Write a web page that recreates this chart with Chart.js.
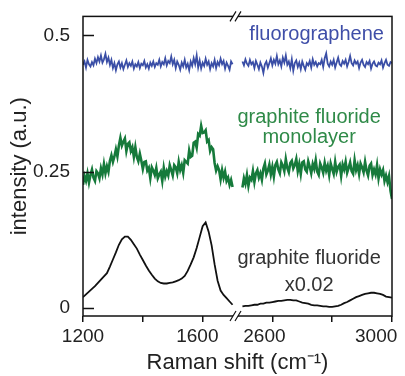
<!DOCTYPE html>
<html>
<head>
<meta charset="utf-8">
<script src="https://cdn.jsdelivr.net/npm/chart.js@4.4.1/dist/chart.umd.min.js"></script>
<style>
  html, body { margin: 0; padding: 0; background: #fff; }
  #wrap { width: 405px; height: 376px; }
</style>
</head>
<body>
<div id="wrap"><canvas id="c" width="405" height="376"></canvas></div>
<script>
// Raman shift sampling (cm-1), both sides of the axis break
const shiftLo = [1200, 1210, 1220, 1230, 1240, 1250, 1260, 1270, 1280, 1290,
  1300, 1310, 1320, 1330, 1340, 1350, 1360, 1370, 1380, 1390,
  1400, 1410, 1420, 1430, 1440, 1450, 1460, 1470, 1480, 1490,
  1500, 1510, 1520, 1530, 1540, 1550, 1560, 1570, 1580, 1590,
  1600, 1610, 1620, 1630, 1640, 1650, 1660, 1670, 1680, 1690, 1700];
const shiftHi = [2500, 2510, 2520, 2530, 2540, 2550, 2560, 2570, 2580, 2590,
  2600, 2610, 2620, 2630, 2640, 2650, 2660, 2670, 2680, 2690,
  2700, 2710, 2720, 2730, 2740, 2750, 2760, 2770, 2780, 2790,
  2800, 2810, 2820, 2830, 2840, 2850, 2860, 2870, 2880, 2890,
  2900, 2910, 2920, 2930, 2940, 2950, 2960, 2970, 2980, 2990, 3000];
// finer sampling for the noisy spectra
const fineLo = [1200, 1205, 1210, 1215, 1220, 1225, 1230, 1235, 1240, 1245,
  1250, 1255, 1260, 1265, 1270, 1275, 1280, 1285, 1290, 1295,
  1300, 1305, 1310, 1315, 1320, 1325, 1330, 1335, 1340, 1345,
  1350, 1355, 1360, 1365, 1370, 1375, 1380, 1385, 1390, 1395,
  1400, 1405, 1410, 1415, 1420, 1425, 1430, 1435, 1440, 1445,
  1450, 1455, 1460, 1465, 1470, 1475, 1480, 1485, 1490, 1495,
  1500, 1505, 1510, 1515, 1520, 1525, 1530, 1535, 1540, 1545,
  1550, 1555, 1560, 1565, 1570, 1575, 1580, 1585, 1590, 1595,
  1600, 1605, 1610, 1615, 1620, 1625, 1630, 1635, 1640, 1645,
  1650, 1655, 1660, 1665, 1670, 1675, 1680, 1685, 1690, 1695, 1700];
const fineHi = [2500, 2505, 2510, 2515, 2520, 2525, 2530, 2535, 2540, 2545,
  2550, 2555, 2560, 2565, 2570, 2575, 2580, 2585, 2590, 2595,
  2600, 2605, 2610, 2615, 2620, 2625, 2630, 2635, 2640, 2645,
  2650, 2655, 2660, 2665, 2670, 2675, 2680, 2685, 2690, 2695,
  2700, 2705, 2710, 2715, 2720, 2725, 2730, 2735, 2740, 2745,
  2750, 2755, 2760, 2765, 2770, 2775, 2780, 2785, 2790, 2795,
  2800, 2805, 2810, 2815, 2820, 2825, 2830, 2835, 2840, 2845,
  2850, 2855, 2860, 2865, 2870, 2875, 2880, 2885, 2890, 2895,
  2900, 2905, 2910, 2915, 2920, 2925, 2930, 2935, 2940, 2945,
  2950, 2955, 2960, 2965, 2970, 2975, 2980, 2985, 2990, 2995, 3000];

// fluorographene
const fluoroLo = [0.446, 0.452, 0.441, 0.455, 0.447, 0.443, 0.451, 0.445, 0.457, 0.449,
  0.460, 0.452, 0.463, 0.450, 0.456, 0.466, 0.451, 0.459, 0.446, 0.455,
  0.440, 0.449, 0.436, 0.447, 0.452, 0.441, 0.449, 0.438, 0.446, 0.454,
  0.442, 0.449, 0.444, 0.452, 0.439, 0.447, 0.443, 0.451, 0.440, 0.448,
  0.445, 0.453, 0.441, 0.447, 0.439, 0.450, 0.444, 0.452, 0.442, 0.449,
  0.446, 0.455, 0.443, 0.451, 0.447, 0.458, 0.445, 0.453, 0.449, 0.461,
  0.447, 0.455, 0.440, 0.452, 0.446, 0.437, 0.450, 0.443, 0.455, 0.441,
  0.448, 0.436, 0.452, 0.444, 0.458, 0.447, 0.463, 0.441, 0.454, 0.439,
  0.450, 0.444, 0.457, 0.446, 0.452, 0.438, 0.449, 0.443, 0.455, 0.440,
  0.451, 0.445, 0.457, 0.447, 0.453, 0.439, 0.450, 0.444, 0.437, 0.452, 0.447];
const fluoroHi = [0.452, 0.445, 0.456, 0.448, 0.444, 0.455, 0.447, 0.451, 0.440, 0.453,
  0.446, 0.438, 0.450, 0.443, 0.431, 0.447, 0.452, 0.441, 0.449, 0.458,
  0.445, 0.455, 0.448, 0.462, 0.447, 0.454, 0.443, 0.459, 0.450, 0.463,
  0.446, 0.452, 0.440, 0.456, 0.435, 0.449, 0.454, 0.442, 0.450, 0.438,
  0.452, 0.444, 0.437, 0.449, 0.445, 0.453, 0.441, 0.456, 0.446, 0.451,
  0.443, 0.449, 0.447, 0.455, 0.442, 0.458, 0.467, 0.448, 0.443, 0.452,
  0.446, 0.455, 0.441, 0.450, 0.459, 0.447, 0.444, 0.453, 0.448, 0.455,
  0.443, 0.451, 0.462, 0.449, 0.445, 0.454, 0.448, 0.452, 0.440, 0.450,
  0.455, 0.446, 0.442, 0.451, 0.447, 0.453, 0.439, 0.448, 0.452, 0.445,
  0.443, 0.450, 0.447, 0.454, 0.441, 0.449, 0.455, 0.446, 0.444, 0.451, 0.449];

// graphite fluoride monolayer
const monoLo = [0.226, 0.242, 0.233, 0.247, 0.230, 0.244, 0.254, 0.239, 0.233, 0.251,
  0.247, 0.238, 0.256, 0.245, 0.264, 0.247, 0.260, 0.250, 0.270, 0.280,
  0.268, 0.278, 0.291, 0.278, 0.298, 0.312, 0.298, 0.305, 0.311, 0.288,
  0.301, 0.304, 0.288, 0.295, 0.277, 0.295, 0.277, 0.269, 0.283, 0.270,
  0.255, 0.268, 0.269, 0.252, 0.257, 0.238, 0.258, 0.252, 0.244, 0.257,
  0.238, 0.245, 0.250, 0.233, 0.257, 0.241, 0.251, 0.243, 0.262, 0.253,
  0.243, 0.262, 0.258, 0.247, 0.268, 0.253, 0.262, 0.248, 0.271, 0.268,
  0.265, 0.289, 0.277, 0.279, 0.303, 0.305, 0.294, 0.319, 0.316, 0.334,
  0.321, 0.322, 0.326, 0.305, 0.308, 0.288, 0.295, 0.291, 0.266, 0.252,
  0.260, 0.253, 0.236, 0.253, 0.239, 0.250, 0.233, 0.239, 0.226, 0.235, 0.222];
const monoHi = [0.221, 0.238, 0.228, 0.244, 0.224, 0.239, 0.235, 0.251, 0.231, 0.247,
  0.253, 0.239, 0.247, 0.235, 0.256, 0.265, 0.245, 0.252, 0.263, 0.245,
  0.259, 0.241, 0.262, 0.268, 0.254, 0.247, 0.267, 0.261, 0.251, 0.273,
  0.257, 0.249, 0.266, 0.270, 0.256, 0.262, 0.273, 0.251, 0.264, 0.246,
  0.267, 0.269, 0.254, 0.250, 0.269, 0.259, 0.247, 0.264, 0.255, 0.271,
  0.250, 0.244, 0.265, 0.258, 0.248, 0.266, 0.252, 0.261, 0.244, 0.265,
  0.255, 0.246, 0.268, 0.250, 0.259, 0.263, 0.242, 0.263, 0.254, 0.268,
  0.248, 0.257, 0.267, 0.251, 0.246, 0.271, 0.253, 0.262, 0.246, 0.265,
  0.258, 0.249, 0.268, 0.252, 0.243, 0.261, 0.265, 0.244, 0.254, 0.245,
  0.262, 0.238, 0.254, 0.245, 0.253, 0.233, 0.243, 0.231, 0.242, 0.215, 0.200];

// graphite fluoride (bulk), x0.02
const bulkLo = [0.020, 0.025, 0.030, 0.035, 0.040, 0.046, 0.052, 0.058, 0.064, 0.076,
  0.089, 0.102, 0.116, 0.126, 0.131, 0.131, 0.125, 0.117, 0.109, 0.098,
  0.088, 0.078, 0.069, 0.061, 0.054, 0.049, 0.046, 0.045, 0.045, 0.046,
  0.047, 0.049, 0.051, 0.054, 0.059, 0.068, 0.080, 0.093, 0.110, 0.130,
  0.150, 0.157, 0.140, 0.115, 0.080, 0.050, 0.032, 0.024, 0.018, 0.012, 0.006];
const bulkHi = [0.003, 0.004, 0.004, 0.005, 0.006, 0.006, 0.008, 0.008, 0.010, 0.010,
  0.011, 0.012, 0.013, 0.013, 0.014, 0.015, 0.015, 0.014, 0.014, 0.012,
  0.010, 0.009, 0.008, 0.006, 0.005, 0.005, 0.004, 0.003, 0.003, 0.002,
  0.002, 0.003, 0.004, 0.006, 0.009, 0.011, 0.014, 0.017, 0.020, 0.022,
  0.024, 0.026, 0.027, 0.028, 0.028, 0.027, 0.026, 0.024, 0.021, 0.020, 0.019];

const xTickValues = [1200, 1400, 1600, 2600, 2800, 3000];
// labels sit a little left of their ticks in the original, hence the trailing spaces
const xTickLabels = ['1200', '', '1600  ', '2600   ', '', '3000      '];
const yTickValues = [0, 0.25, 0.5];
const yTickLabels = ['0', '0.25', '0.5'];

const BLUE = '#3a4ea6';
const GREEN = '#167a3b';
const BLACK = '#111';
const FONT = "'Liberation Sans', Arial, sans-serif";

// broken axis: 1700..2500 is cut out and replaced by a short gap
const BREAK_FROM = 1700;
const BREAK_TO = 2500;
const BREAK_GAP = 33;
const axisX = (x) => (x <= BREAK_FROM ? x : x - (BREAK_TO - BREAK_FROM) + BREAK_GAP);
const pts = (xs, ys) => xs.map((x, i) => ({ x: axisX(x), y: ys[i] }));

const notes = [
  { lines: ['fluorographene'], x: 2973, y: 0.502, align: 'right', color: '#3f4ea8', gap: 0 },
  { lines: ['graphite fluoride', 'monolayer'], x: 2723, y: 0.349, align: 'center', color: '#2f8a48', gap: 20 },
  { lines: ['graphite fluoride', 'x0.02'], x: 2723, y: 0.091, align: 'center', color: '#333', gap: 27 },
];

function series(data, color, width) {
  return { data, borderColor: color, borderWidth: width, pointRadius: 0, tension: 0, fill: false };
}

const frame = {
  id: 'frame',
  afterDraw(chart) {
    const { ctx, chartArea: a, scales } = chart;
    ctx.save();
    ctx.strokeStyle = BLACK;
    ctx.lineWidth = 1.5;
    ctx.strokeRect(a.left, a.top, a.right - a.left, a.bottom - a.top);

    ctx.beginPath();
    yTickValues.forEach((v) => {
      const y = Math.round(scales.y.getPixelForValue(v)) + 0.5;
      ctx.moveTo(a.left, y);
      ctx.lineTo(a.left + 11, y);
    });
    ctx.stroke();

    const bx = scales.x.getPixelForValue(BREAK_FROM + BREAK_GAP / 2) - 2;
    [a.top, a.bottom].forEach((y) => {
      ctx.fillStyle = '#fff';
      ctx.fillRect(bx - 2.5, y - 2, 5, 4);
      ctx.beginPath();
      [-2.5, 2.5].forEach((dx) => {
        ctx.moveTo(bx + dx - 3, y + 5);
        ctx.lineTo(bx + dx + 3, y - 5);
      });
      ctx.lineWidth = 1.2;
      ctx.stroke();
    });

    ctx.font = `20px ${FONT}`;
    ctx.textBaseline = 'middle';
    notes.forEach((n) => {
      const x = scales.x.getPixelForValue(axisX(n.x));
      const y = scales.y.getPixelForValue(n.y);
      ctx.fillStyle = n.color;
      ctx.textAlign = n.align;
      n.lines.forEach((t, i) => ctx.fillText(t, x, y + i * n.gap));
    });
    ctx.restore();
  },
};

new Chart(document.getElementById('c'), {
  type: 'line',
  data: {
    datasets: [
      series(pts(fineLo, fluoroLo), BLUE, 1.8),
      series(pts(fineHi, fluoroHi), BLUE, 1.8),
      series(pts(fineLo, monoLo), GREEN, 2.6),
      series(pts(fineHi, monoHi), GREEN, 2.6),
      series(pts(shiftLo, bulkLo), BLACK, 1.8),
      series(pts(shiftHi, bulkHi), BLACK, 1.8),
    ],
  },
  options: {
    responsive: false,
    animation: false,
    devicePixelRatio: 1,
    layout: { padding: { top: 15, right: 13, left: 0, bottom: 0 } },
    plugins: { legend: { display: false }, tooltip: { enabled: false } },
    scales: {
      x: {
        type: 'linear',
        min: 1200,
        max: axisX(3000),
        afterBuildTicks: (s) => { s.ticks = xTickValues.map((v) => ({ value: axisX(v) })); },
        afterFit: (s) => { s.height = 60; s.paddingLeft = 0; s.paddingRight = 0; },
        border: { display: false },
        grid: { drawOnChartArea: false, drawTicks: true, tickLength: 6, color: BLACK, lineWidth: 1.5 },
        ticks: {
          autoSkip: false,
          maxRotation: 0,
          padding: 3,
          color: '#222',
          font: { family: FONT, size: 19 },
          callback: (v, i) => xTickLabels[i],
        },
        title: {
          display: true,
          text: 'Raman shift (cm⁻¹)',
          color: '#222',
          font: { family: FONT, size: 22 },
          padding: 0,
        },
      },
      y: {
        min: -0.0146,
        max: 0.5347,
        afterBuildTicks: (s) => { s.ticks = yTickValues.map((v) => ({ value: v })); },
        afterFit: (s) => { s.width = 83; },
        border: { display: false },
        grid: { display: false },
        ticks: {
          padding: 5,
          color: '#222',
          font: { family: FONT, size: 19 },
          callback: (v, i) => yTickLabels[i],
        },
        title: {
          display: true,
          text: 'intensity (a.u.)',
          color: '#222',
          font: { family: FONT, size: 22 },
          padding: { top: 7, bottom: 0 },
        },
      },
    },
  },
  plugins: [frame],
});
</script>
</body>
</html>
